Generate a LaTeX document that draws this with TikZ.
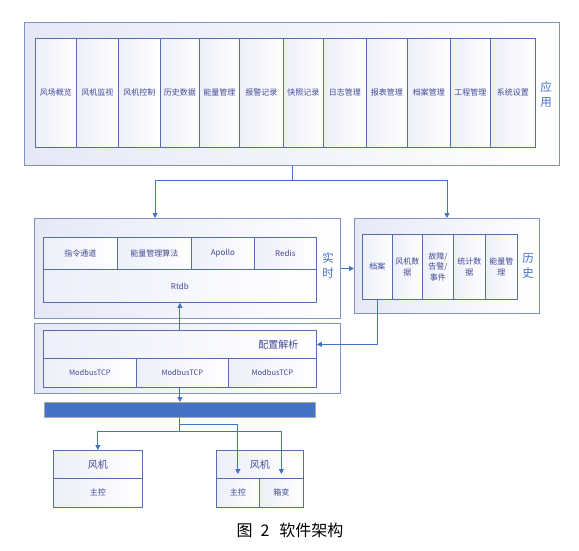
\documentclass[tikz,border=0pt]{standalone}
\usepackage{fontspec}
\setmainfont{Noto Sans CJK SC}
\usetikzlibrary{arrows.meta}

\definecolor{lineblue}{RGB}{68,114,196}
\definecolor{boxblue}{RGB}{84,108,178}
\definecolor{txtblue}{RGB}{66,74,150}
\definecolor{lav}{RGB}{230,232,246}

\tikzset{
  outerbox/.style={draw=boxblue!75, line width=0.9pt, left color=lav, right color=white,
    anchor=north west, inner sep=0pt},
  cell/.style={draw=boxblue, line width=0.8pt, left color=lav!70, right color=white,
    anchor=north west, inner sep=0pt, align=center, text=txtblue,
    font=\fontsize{8}{10.5}\selectfont},
  side/.style={text=lineblue, align=center, font=\fontsize{11.5}{15}\selectfont},
  link/.style={draw=lineblue, line width=0.9pt},
  tip/.style={-{Triangle[length=5pt,width=5pt]}}
}

\begin{document}
\begin{tikzpicture}[x=1pt,y=-1pt]
  \useasboundingbox (0,0) rectangle (579,551);

  % outer boxes
  \node[outerbox, minimum width=535pt, minimum height=143pt] (app) at (24,22) {};
  \node[outerbox, minimum width=306pt, minimum height=100pt] (rt)  at (34,218) {};
  \node[outerbox, minimum width=185pt, minimum height=95pt]  (hs)  at (354,218) {};
  \node[outerbox, minimum width=306pt, minimum height=70pt]  (cf)  at (34,323) {};

  \node[side] (applbl) at (546,95) {应\\用};
  \node[side] (rtlbl)  at (328,266) {实\\时};
  \node[side] (hslbl)  at (528,266) {历\\史};

  % application row
  \begin{scope}[every node/.style={cell, minimum height=109pt}]
    \node[minimum width=41pt] (a1)  at (35,38)  {风场概览};
    \node[minimum width=42pt] (a2)  at (76,38)  {风机监视};
    \node[minimum width=42pt] (a3)  at (118,38) {风机控制};
    \node[minimum width=39pt] (a4)  at (160,38) {历史数据};
    \node[minimum width=40pt] (a5)  at (199,38) {能量管理};
    \node[minimum width=44pt] (a6)  at (239,38) {报警记录};
    \node[minimum width=40pt] (a7)  at (283,38) {快照记录};
    \node[minimum width=43pt] (a8)  at (323,38) {日志管理};
    \node[minimum width=41pt] (a9)  at (366,38) {报表管理};
    \node[minimum width=43pt] (a10) at (407,38) {档案管理};
    \node[minimum width=40pt] (a11) at (450,38) {工程管理};
    \node[minimum width=45pt] (a12) at (490,38) {系统设置};
  \end{scope}

  % real time
  \begin{scope}[every node/.style={cell, minimum height=32pt}]
    \node[minimum width=74pt] (r1) at (43,237)  {指令通道};
    \node[minimum width=74pt] (r2) at (117,237) {能量管理算法};
    \node[minimum width=63pt] (r3) at (191,237) {Apollo};
    \node[minimum width=62pt] (r4) at (254,237) {Redis};
  \end{scope}
  \node[cell, minimum width=273pt, minimum height=33pt] (rtdb) at (43,269) {Rtdb};

  % history
  \begin{scope}[every node/.style={cell, minimum height=65pt}]
    \node[minimum width=30pt] (h1) at (362,234) {档案};
    \node[minimum width=30pt] (h2) at (392,234) {风机数\\据};
    \node[minimum width=31pt] (h3) at (422,234) {故障/\\告警/\\事件};
    \node[minimum width=32pt] (h4) at (453,234) {统计数\\据};
    \node[minimum width=32pt] (h5) at (485,234) {能量管\\理};
  \end{scope}

  % config
  \node[cell, minimum width=273pt, minimum height=28pt, text width=237pt, align=right,
    font=\fontsize{10}{12}\selectfont] (cfg) at (43,330) {配置解析};
  \begin{scope}[every node/.style={cell, minimum height=29pt, font=\fontsize{7.5}{9}\selectfont}]
    \node[minimum width=93pt] (mb1) at (43,358)  {ModbusTCP};
    \node[minimum width=92pt] (mb2) at (136,358) {ModbusTCP};
    \node[minimum width=88pt] (mb3) at (228,358) {ModbusTCP};
  \end{scope}

  % bus
  \node[draw=black!35, fill=lineblue, line width=0.8pt, anchor=north west,
    minimum width=271pt, minimum height=15pt, inner sep=0pt] (bus) at (44,402) {};

  % turbines
  \begin{scope}[every node/.style={cell, minimum height=28pt, font=\fontsize{10}{12}\selectfont}]
    \node[minimum width=89pt] (f1) at (53,450)  {风机};
    \node[minimum width=87pt] (f2) at (216,450) {风机};
  \end{scope}
  \begin{scope}[every node/.style={cell, minimum height=29pt}]
    \node[minimum width=89pt] (m1) at (53,478)  {主控};
    \node[minimum width=43pt] (m2) at (216,478) {主控};
    \node[minimum width=44pt] (xb) at (259,478) {箱变};
  \end{scope}

  \node[font=\fontsize{16}{18}\selectfont] (cap) at (290,530) {图\hspace{8pt}2\hspace{10pt}软件架构};

  % connectors
  \coordinate (rtin) at (155,218);
  \coordinate (hsin) at (447,218);
  \draw[link,tip] (app.south) -- ++(0,15) -| (rtin);
  \draw[link,tip] (app.south) -- ++(0,15) -| (hsin);
  \draw[link,tip] (rt.east) -- (rt.east -| hs.west);
  \draw[link,tip] (h1.south) |- (cfg.east);
  \draw[link,tip] (cfg.north) -- (rtdb.south);
  \draw[link,tip] (bus.north |- mb2.south) -- (bus.north);
  \draw[link,tip] (bus.south) -- ++(0,14) -| (f1.north);
  \draw[link,tip] (bus.south) -- ++(0,14) -| ([yshift=4pt]xb.north);
  \draw[link,tip] (bus.south) -- ++(0,7) -| ([yshift=4pt]m2.north);
\end{tikzpicture}
\end{document}
